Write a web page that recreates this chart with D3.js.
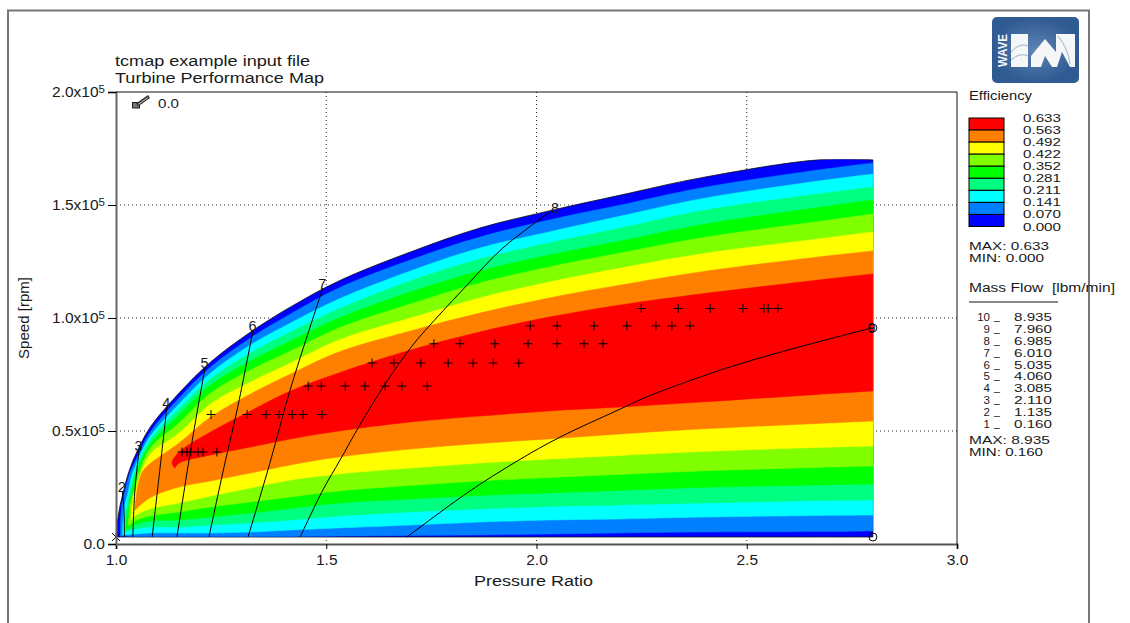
<!DOCTYPE html>
<html>
<head>
<meta charset="utf-8">
<script src="https://cdn.jsdelivr.net/npm/d3@7"></script>
<style>
body { margin:0; background:#fff; }
svg { display:block; }
text { font-family:"Liberation Sans",Arial,sans-serif; fill:#1a1a1a; white-space:pre; }
</style>
</head>
<body>
<svg id="map" width="1130" height="623"></svg>
<script>
// speeds are in thousands of rpm
var prColumns = [1.045,1.08,1.15,1.225,1.32,1.415,1.53,1.70,1.865,2.03,2.2,2.39,2.67,2.8];

var blueUpper   = [38.9,51.3,66.8,80.5,93.8,104.9,116.4,129.2,139.8,147.4,154.4,162.0,170.0,170.0];
var azureUpper  = [36.3,49.1,64.6,78.3,91.2,101.8,113.3,125.7,135.8,143.4,150.0,157.5,165.5,168.6];
var cyanUpper   = [34.1,47.3,62.0,75.7,88.1,97.8,108.4,120.8,131.0,138.1,145.1,152.7,160.6,163.7];
var mintUpper   = [31.9,45.6,59.7,73.0,84.5,93.8,104.0,116.4,126.1,133.2,139.8,147.4,154.9,158.0];
var greenUpper  = [29.6,43.8,57.1,70.4,81.0,89.8,100.0,111.5,120.8,127.9,134.1,141.2,148.9,152.2];
var limeUpper   = [25.7,42.0,53.5,66.8,77.0,85.4,95.6,106.2,115.5,122.6,128.8,135.4,142.7,146.0];
var yellowUpper = [23.0,39.4,49.1,62.0,71.7,80.1,90.3,100.0,108.9,115.9,122.1,128.3,135.0,138.1];
var orangeUpper = [null,35.4,44.7,56.2,66.4,75.2,85.0,94.3,102.2,108.9,114.6,120.4,127.0,129.7];
var redUpper    = [null,null,40.7,49.6,58.9,67.7,75.7,85.8,93.8,100.4,105.8,110.6,116.8,119.5];

var blueLower   = [3.1,3.1,3.1,3.1,3.1,3.1,3.1,3.1,3.1,3.1,3.1,3.1,3.1,3.1];
var azureLower  = [3.3,3.3,3.3,3.3,3.3,3.3,3.5,3.8,4.0,4.4,4.9,5.3,5.5,5.8];
var cyanLower   = [4.4,4.9,4.9,4.9,5.3,6.2,7.1,8.4,9.7,10.6,11.1,11.9,12.6,12.8];
var mintLower   = [6.6,7.5,7.5,8.4,9.3,10.6,12.4,14.2,15.5,16.6,17.3,18.1,19.2,19.5];
var greenLower  = [8.4,10.2,10.6,11.9,13.7,15.7,18.1,19.9,21.5,22.6,23.7,25.0,26.1,26.6];
var limeLower   = [10.2,12.4,14.2,16.4,18.6,20.8,23.5,25.9,27.9,29.4,30.8,32.3,33.9,34.5];
var yellowLower = [12.4,15.5,18.1,21.2,24.8,28.3,31.0,33.6,35.8,37.6,39.2,40.9,42.7,43.4];
var orangeLower = [null,20.4,25.2,27.9,31.4,35.0,38.5,42.0,44.5,46.5,48.7,50.9,53.3,54.4];
var redLower    = [null,null,35.8,39.4,42.9,46.5,50.0,54.0,56.6,58.9,60.6,62.8,66.2,67.7];

// left ends of each contour, bottom to top
var blueLeft   = [[1.0,3.1],[1.002,8.4],[1.005,11.9],[1.01,17.3],[1.017,22.6],[1.026,29.2],[1.038,35.8]];
var azureLeft  = [[1.01,3.5],[1.011,10.6],[1.014,17.3],[1.021,23.0],[1.033,31.4]];
var cyanLeft   = [[1.015,4.0],[1.017,10.6],[1.02,16.4],[1.029,23.0],[1.036,29.2]];
var mintLeft   = [[1.019,5.3],[1.021,11.5],[1.026,17.3],[1.033,23.0],[1.038,27.4]];
var greenLeft  = [[1.024,6.2],[1.026,11.9],[1.031,17.3],[1.036,21.7],[1.04,25.7]];
var limeLeft   = [[1.029,8.0],[1.031,12.8],[1.033,17.3],[1.038,20.8],[1.043,24.0]];
var yellowLeft = [[1.036,10.6],[1.038,16.4],[1.04,20.4]];
var orangeLeft = [[1.045,15.0],[1.048,20.8],[1.052,26.1],[1.064,32.3]];
var redLeft    = [[1.14,33.6],[1.133,35.8]];

// mass flow lines
var flowLine2 = [[1.020,3.1],[1.019,15.0],[1.015,23.5]];
var flowLine3 = [[1.040,3.1],[1.045,23.9],[1.055,41.6]];
var flowLine4 = [[1.086,3.1],[1.105,34.1],[1.121,60.6]];
var flowLine5 = [[1.145,3.1],[1.171,34.1],[1.195,60.6],[1.212,78.3]];
var flowLine6 = [[1.221,3.1],[1.259,35.8],[1.288,59.3],[1.326,94.7]];
var flowLine7 = [[1.314,3.1],[1.366,35.8],[1.414,68.1],[1.492,113.3]];
var flowLine8 = [[1.438,3.1],[1.492,23.9],[1.533,37.2],[1.580,52.7],[1.640,70.8],[1.706,88.1],[1.747,96.9],[1.835,114.6],[1.920,131.0],[2.032,146.9]];
var flowLine9 = [[1.692,3.1],[1.835,22.6],[1.954,36.7],[2.056,47.3],[2.199,59.7],[2.253,64.4],[2.389,73.9],[2.491,80.1],[2.643,88.1],[2.798,95.6]];

// measured points, one row per speed line
var rowSpeeds = [40.7,57.3,69.9,80.1,88.6,96.5,104.2];
var row1 = [1.157,1.169,1.178,1.195,1.207,1.240];
var row2 = [1.226,1.312,1.357,1.388,1.419,1.445,1.490];
var row3 = [1.457,1.488,1.545,1.592,1.640,1.680,1.740];
var row4 = [1.609,1.661,1.725,1.790,1.849,1.897,1.958];
var row5 = [1.756,1.818,1.901,1.980,2.049,2.113,2.158];
var row6 = [1.985,2.049,2.137,2.215,2.284,2.322,2.365];
var row7 = [2.249,2.337,2.413,2.491,2.541,2.551,2.574];

var bandColors = ["#0000ff","#0080ff","#00ffff","#00ff80","#00ff00","#80ff00","#ffff00","#ff8000","#ff0000"];
var effLabels = ["0.633","0.563","0.492","0.422","0.352","0.281","0.211","0.141","0.070","0.000"];
var flowNumbers = ["10","9","8","7","6","5","4","3","2","1"];
var flowValues = ["8.935","7.960","6.985","6.010","5.035","4.060","3.085","2.110","1.135","0.160"];
var prTicks = [1.0,1.5,2.0,2.5,3.0];
var speedTicks = [0,50,100,150,200];

var svg = d3.select("#map");
var xScale = d3.scaleLinear().domain([1,3]).range([116,957]);
var yScale = d3.scaleLinear().domain([0,200]).range([544,92]);

// page frame
svg.append("path").attr("d","M8,623V10.5H1089V623").attr("fill","none").attr("stroke","#777").attr("stroke-width",2);

// dotted grid
svg.append("g").selectAll("line").data([1.5,2.0,2.5]).join("line")
    .attr("x1",function(d){return xScale(d)}).attr("x2",function(d){return xScale(d)})
    .attr("y1",yScale(200)).attr("y2",yScale(0))
    .attr("stroke","#222").attr("stroke-dasharray","1,3");
svg.append("g").selectAll("line").data([50,100,150]).join("line")
    .attr("y1",function(d){return yScale(d)}).attr("y2",function(d){return yScale(d)})
    .attr("x1",xScale(1)).attr("x2",xScale(3))
    .attr("stroke","#222").attr("stroke-dasharray","1,3");

// contour bands, outside to inside
var uppers = [blueUpper,azureUpper,cyanUpper,mintUpper,greenUpper,limeUpper,yellowUpper,orangeUpper,redUpper];
var lowers = [blueLower,azureLower,cyanLower,mintLower,greenLower,limeLower,yellowLower,orangeLower,redLower];
var lefts = [blueLeft,azureLeft,cyanLeft,mintLeft,greenLeft,limeLeft,yellowLeft,orangeLeft,redLeft];

var curve = d3.line()
    .x(function(d){return xScale(d[0])})
    .y(function(d){return yScale(d[1])})
    .curve(d3.curveCatmullRom.alpha(0.5));

function columnPoints(values) {
    var pts = [];
    for(var ii=0;ii<values.length;ii++)
	if(values[ii]!=null) pts.push([prColumns[ii],values[ii]]);
    return pts;
}

function bandPath(ii) {
    var top = lefts[ii].concat(columnPoints(uppers[ii]));
    var bottom = columnPoints(lowers[ii]).reverse();
    bottom.push(lefts[ii][0]);
    return curve(top)+"L"+curve(bottom).slice(1)+"Z";
}

// the top of the clip flattens the hull where it levels off
svg.append("clipPath").attr("id","mapClip").append("rect")
    .attr("x",xScale(1)-1).attr("y",yScale(170)-0.5)
    .attr("width",xScale(2.8)-xScale(1)+2).attr("height",yScale(3.1)-yScale(170)+1.5);

var bands = svg.append("g").attr("clip-path","url(#mapClip)");
bands.selectAll("path").data(bandColors).join("path")
    .attr("d",function(d,i){return bandPath(i)})
    .attr("fill",function(d){return d})
    .attr("stroke",function(d,i){return i==0 ? "#111" : d})
    .attr("stroke-width",function(d,i){return i==0 ? 0.8 : 0.5});

// mass flow lines and their numbers
var flowLines = [flowLine2,flowLine3,flowLine4,flowLine5,flowLine6,flowLine7,flowLine8,flowLine9];
svg.append("g").selectAll("path").data(flowLines).join("path")
    .attr("d",curve).attr("fill","none").attr("stroke","#000").attr("stroke-width",1);
svg.append("g").selectAll("text").data(flowLines).join("text")
    .attr("x",function(d){return xScale(d[d.length-1][0])+(d==flowLine8 ? 5 : -0.5)})
    .attr("y",function(d){return yScale(d[d.length-1][1])+(d==flowLine9 ? 5 : 1)})
    .attr("text-anchor","middle").attr("font-size",14.5)
    .text(function(d,i){return i+2});

// end markers of lines 1, 9 and 10
svg.append("circle").attr("cx",xScale(2.8)).attr("cy",yScale(95.6)).attr("r",4).attr("fill","none").attr("stroke","#000");
svg.append("circle").attr("cx",xScale(2.8)).attr("cy",yScale(3.1)).attr("r",4).attr("fill","none").attr("stroke","#000");
svg.append("path").attr("transform","translate("+xScale(1)+","+yScale(3.1)+")")
    .attr("d","M-4,-4L4,4M-4,4L4,-4").attr("stroke","#000").attr("fill","none");

// + marks
var rows = [row1,row2,row3,row4,row5,row6,row7];
rows.forEach(function(row,r){
    svg.append("g").selectAll("path").data(row).join("path")
	.attr("transform",function(d){return "translate("+xScale(d)+","+yScale(rowSpeeds[r])+")"})
	.attr("d","M-4.5,0H4.5M0,-4.5V4.5")
	.attr("fill","none").attr("stroke","#000").attr("stroke-width",1);
});

// axes
var xAxis = svg.append("g").attr("transform","translate(0,"+yScale(0)+")")
    .call(d3.axisBottom(xScale).tickValues(prTicks).tickSize(5).tickFormat(d3.format(".1f")));
var yAxis = svg.append("g").attr("transform","translate("+xScale(1)+",0)")
    .call(d3.axisLeft(yScale).tickValues(speedTicks).tickSize(8).tickFormat(function(d){return ""}));
xAxis.select(".domain").attr("stroke","#555").attr("stroke-width",2);
yAxis.select(".domain").attr("stroke","#666").attr("stroke-width",2);
xAxis.selectAll("text").attr("font-size",15.5).attr("font-family","Liberation Sans").attr("y",10);
yAxis.selectAll(".tick").each(function(d){
    var t = d3.select(this).select("text")
	.attr("x",-11).attr("font-size",15.5).attr("font-family","Liberation Sans");
    if(d==0) { t.text("0.0"); return; }
    t.text((d/100).toFixed(1)+"x10");
    t.append("tspan").attr("dy","-0.4em").attr("font-size",11.5).text("5");
});
svg.append("line").attr("x1",xScale(1)).attr("x2",xScale(3)).attr("y1",yScale(200)).attr("y2",yScale(200)).attr("stroke","#111");
svg.append("line").attr("x1",xScale(3)).attr("x2",xScale(3)).attr("y1",yScale(200)).attr("y2",yScale(0)).attr("stroke","#111");

function label(x,y,str,size,width) {
    var t = svg.append("text").attr("x",x).attr("y",y).attr("font-size",size).text(str);
    if(width) t.attr("textLength",width).attr("lengthAdjust","spacingAndGlyphs");
    return t;
}

label(115,66,"tcmap example input file",14,195);
label(115,83,"Turbine Performance Map",14,209);
label(474,586,"Pressure Ratio",14,119);
label(0,0,"Speed [rpm]",14,82).attr("transform","translate(29,359) rotate(-90)");

// pencil note, top left
svg.append("rect").attr("x",132.5).attr("y",102.5).attr("width",7).attr("height",5.5).attr("fill","#777").attr("stroke","#222");
svg.append("path").attr("d","M137,105L149,96.5").attr("stroke","#333").attr("stroke-width",3.5).attr("fill","none");
svg.append("path").attr("d","M138,104.5L148,97.5").attr("stroke","#ccc").attr("stroke-width",1).attr("fill","none");
label(158,108,"0.0",13,21);

// WAVE logo
var logo = svg.append("g");
var logoFill = svg.append("defs").append("radialGradient").attr("id","logoFill");
logoFill.append("stop").attr("offset","0%").attr("stop-color","#5f84b5");
logoFill.append("stop").attr("offset","100%").attr("stop-color","#2f5a92");
logo.append("rect").attr("x",992).attr("y",17).attr("width",87).attr("height",66).attr("rx",5).attr("fill","url(#logoFill)");
logo.append("rect").attr("x",1011).attr("y",34).attr("width",17).attr("height",33).attr("fill","#f4f6f8");
logo.append("path").attr("d","M1031,67V56L1045,39L1056,52V34H1075V67H1070L1062,52L1057,67H1052L1045,56L1041,67Z").attr("fill","#f4f6f8");
logo.append("path").attr("d","M1011,60Q1020,52 1028,56M1011,52Q1020,42 1028,46M1058,36Q1068,48 1070,64").attr("fill","none").attr("stroke","#9db2cc");
logo.append("text").attr("transform","translate(1007,67) rotate(-90)").attr("font-size",13).attr("font-weight","bold")
    .attr("textLength",33).attr("lengthAdjust","spacingAndGlyphs").style("fill","#f4f6f8").text("WAVE");

// efficiency legend
label(969,100,"Efficiency",13,63);
var effScale = d3.scaleLinear().domain([0,9]).range([118,226.5]);
svg.append("g").selectAll("rect").data(bandColors.slice().reverse()).join("rect")
    .attr("x",969).attr("width",35)
    .attr("y",function(d,i){return effScale(i)})
    .attr("height",function(d,i){return effScale(i+1)-effScale(i)})
    .attr("fill",function(d){return d}).attr("stroke","#000");
svg.append("g").selectAll("text").data(effLabels).join("text")
    .attr("x",1023).attr("y",function(d,i){return effScale(i)+4})
    .attr("font-size",10.5).attr("textLength",38).attr("lengthAdjust","spacingAndGlyphs")
    .text(function(d){return d});
label(969,250,"MAX: 0.633",10.5,80);
label(969,262,"MIN: 0.000",10.5,75);

// mass flow legend
label(969,292,"Mass Flow  [lbm/min]",12.5,146);
svg.append("line").attr("x1",969).attr("x2",1058).attr("y1",302).attr("y2",302).attr("stroke","#111");
var flowScale = d3.scaleLinear().domain([0,9]).range([321,428]);
svg.append("g").selectAll("text").data(flowNumbers).join("text")
    .attr("x",990).attr("y",function(d,i){return flowScale(i)})
    .attr("text-anchor","end").attr("font-size",11.5)
    .text(function(d){return d});
svg.append("g").selectAll("text").data(flowNumbers).join("text")
    .attr("x",994).attr("y",function(d,i){return flowScale(i)-1})
    .attr("font-size",10.5).text("_");
svg.append("g").selectAll("text").data(flowValues).join("text")
    .attr("x",1014).attr("y",function(d,i){return flowScale(i)})
    .attr("font-size",10.5).attr("textLength",38).attr("lengthAdjust","spacingAndGlyphs")
    .text(function(d){return d});
label(969,444,"MAX: 8.935",10.5,81);
label(969,456,"MIN: 0.160",10.5,74);
</script>
</body>
</html>
